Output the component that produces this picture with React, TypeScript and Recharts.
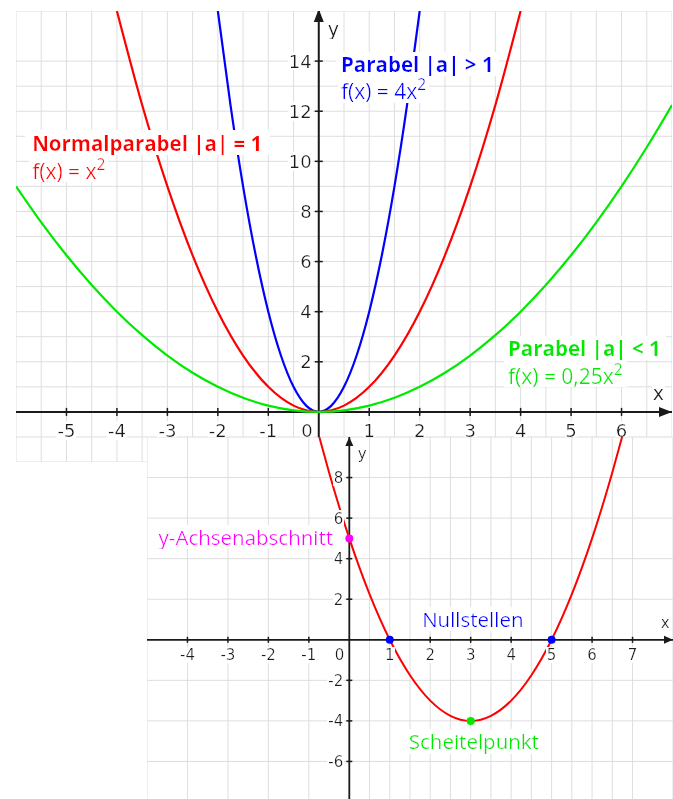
import React from "react";
import {
  ComposedChart,
  Line,
  Scatter,
  XAxis,
  YAxis,
  CartesianGrid,
  ReferenceLine,
  ReferenceDot,
} from "recharts";

// upper chart: f(x) = a * x^2 for three values of a
const normalX = [-4, -3.5, -3, -2.5, -2, -1.5, -1, -0.5, 0, 0.5, 1, 1.5, 2, 2.5, 3, 3.5, 4];
const normalY = [16, 12.25, 9, 6.25, 4, 2.25, 1, 0.25, 0, 0.25, 1, 2.25, 4, 6.25, 9, 12.25, 16];

const steepX = [-2, -1.75, -1.5, -1.25, -1, -0.75, -0.5, -0.25, 0, 0.25, 0.5, 0.75, 1, 1.25, 1.5, 1.75, 2];
const steepY = [16, 12.25, 9, 6.25, 4, 2.25, 1, 0.25, 0, 0.25, 1, 2.25, 4, 6.25, 9, 12.25, 16];

const flatX = [-6, -5.5, -5, -4.5, -4, -3.5, -3, -2.5, -2, -1.5, -1, -0.5, 0, 0.5, 1, 1.5, 2, 2.5, 3, 3.5, 4, 4.5, 5, 5.5, 6, 6.5, 7];
const flatY = [9, 7.5625, 6.25, 5.0625, 4, 3.0625, 2.25, 1.5625, 1, 0.5625, 0.25, 0.0625, 0, 0.0625, 0.25, 0.5625, 1, 1.5625, 2.25, 3.0625, 4, 5.0625, 6.25, 7.5625, 9, 10.5625, 12.25];

// lower chart: f(x) = x^2 - 6x + 5
const curveX = [-0.75, -0.5, -0.25, 0, 0.5, 1, 1.5, 2, 2.5, 3, 3.5, 4, 4.5, 5, 5.5, 6, 6.25, 6.5, 6.75];
const curveY = [10.0625, 8.25, 6.5625, 5, 2.25, 0, -1.75, -3, -3.75, -4, -3.75, -3, -1.75, 0, 2.25, 5, 6.5625, 8.25, 10.0625];

const interceptX = [0];
const interceptY = [5];
const rootsX = [1, 5];
const rootsY = [0, 0];
const vertexX = [3];
const vertexY = [-4];

// tick labels
const topXTicks = [-5, -4, -3, -2, -1, 1, 2, 3, 4, 5, 6];
const topYTicks = [2, 4, 6, 8, 10, 12, 14];
const botXTicks = [-4, -3, -2, -1, 1, 2, 3, 4, 5, 6, 7];
const botYTicks = [-6, -4, -2, 2, 4, 6, 8];

type Pt = { x: number; y: number };
const zip = (xs: number[], ys: number[]): Pt[] => xs.map((x, i) => ({ x, y: ys[i] }));

const range = (a: number, b: number, step: number) => {
  const out: number[] = [];
  for (let v = a; v <= b + 1e-9; v += step) out.push(Math.round(v * 100) / 100);
  return out;
};

const AXIS = "#1a1a1a";
const GRID = "#dedede";
const GREEN = "#00ea00";
const TICK_FONT = "'DejaVu Sans', sans-serif";
const LABEL_FONT = "'Open Sans', sans-serif";
const BG = "url(#textbg)";

const xTick = (label: string, size: number, len: number, dy: number) => (p: any) => (
  <g>
    <line x1={p.cx} x2={p.cx} y1={p.cy - len} y2={p.cy + len} stroke={AXIS} strokeWidth={1.5} />
    <text x={p.cx} y={p.cy + dy} textAnchor="middle" fontSize={size} fontFamily={TICK_FONT} fill={AXIS} filter={BG}>
      {label}
    </text>
  </g>
);

const yTick = (label: string, size: number, len: number, dx: number) => (p: any) => (
  <g>
    <line x1={p.cx - len} x2={p.cx + len} y1={p.cy} y2={p.cy} stroke={AXIS} strokeWidth={1.5} />
    <text x={p.cx - dx} y={p.cy + size * 0.36} textAnchor="end" fontSize={size} fontFamily={TICK_FONT} fill={AXIS} filter={BG}>
      {label}
    </text>
  </g>
);

const plainText = (label: string, size: number, dx: number, dy: number, anchor = "end") => (p: any) => (
  <text x={p.cx + dx} y={p.cy + dy} textAnchor={anchor} fontSize={size} fontFamily={TICK_FONT} fill={AXIS} filter={BG}>
    {label}
  </text>
);

const upArrow = (len: number, half: number) => (p: any) => (
  <path d={`M${p.cx},${p.cy - 2} L${p.cx - half},${p.cy - 2 + len} L${p.cx + half},${p.cy - 2 + len} Z`} fill={AXIS} />
);

const rightArrow = (len: number, half: number) => (p: any) => (
  <path d={`M${p.cx},${p.cy} L${p.cx - len},${p.cy - half} L${p.cx - len},${p.cy + half} Z`} fill={AXIS} />
);

// two-line label: bold heading, then the formula with a superscript 2
// formula first so the heading's white box sits on top of it
const heading = (title: string, formula: string, color: string, gap: number) => (p: any) => (
  <g fontFamily={LABEL_FONT} fill={color}>
    <text x={p.cx} y={p.cy + gap} fontSize={21} filter={BG}>
      {formula}
      <tspan dy={-9} fontSize={15.5}>
        2
      </tspan>
    </text>
    <text x={p.cx} y={p.cy} fontSize={20.5} fontWeight={700} filter={BG}>
      {title}
    </text>
  </g>
);

const note = (text: string, color: string, size: number, anchor = "start") => (p: any) => (
  <text x={p.cx} y={p.cy} textAnchor={anchor} fontSize={size} fontFamily={LABEL_FONT} fill={color} filter={BG}>
    {text}
  </text>
);

const dot = (color: string) => (p: any) => <circle cx={p.cx} cy={p.cy} r={4} fill={color} />;

function TopChart() {
  return (
    <ComposedChart width={656} height={451} margin={{ top: 0, right: 0, bottom: 0, left: 0 }}>
      <XAxis type="number" dataKey="x" domain={[-6, 7]} ticks={range(-6, 7, 0.5)} allowDataOverflow hide />
      <YAxis type="number" dataKey="y" domain={[-2, 16]} ticks={range(-2, 16, 1)} allowDataOverflow hide />
      <CartesianGrid stroke={GRID} strokeWidth={1} />
      <ReferenceLine x={0} stroke={AXIS} strokeWidth={2} />
      <ReferenceLine y={0} stroke={AXIS} strokeWidth={2} />
      {topXTicks.map((t) => (
        <ReferenceDot key={"tx" + t} x={t} y={0} ifOverflow="visible" shape={xTick(String(t), 18, 4, 25)} />
      ))}
      {topYTicks.map((t) => (
        <ReferenceDot key={"ty" + t} x={0} y={t} ifOverflow="visible" shape={yTick(String(t), 18, 4, 7)} />
      ))}
      <ReferenceDot x={0} y={0} ifOverflow="visible" shape={plainText("0", 18, -6, 25)} />
      <ReferenceDot x={0} y={16} ifOverflow="visible" shape={upArrow(13, 5)} />
      <ReferenceDot x={7} y={0} ifOverflow="visible" shape={rightArrow(13, 5)} />
      <ReferenceDot x={0.18} y={15.0} ifOverflow="visible" shape={plainText("y", 19, 0, 0, "start")} />
      <ReferenceDot x={6.62} y={0.47} ifOverflow="visible" shape={plainText("x", 19, 0, 0, "start")} />

      <Line data={zip(steepX, steepY)} dataKey="y" type="monotone" stroke="#0000ff" strokeWidth={2.2} dot={false} activeDot={false} isAnimationActive={false} />
      <Line data={zip(normalX, normalY)} dataKey="y" type="monotone" stroke="#ff0000" strokeWidth={2.2} dot={false} activeDot={false} isAnimationActive={false} />
      <Line data={zip(flatX, flatY)} dataKey="y" type="monotone" stroke={GREEN} strokeWidth={2.2} dot={false} activeDot={false} isAnimationActive={false} />

      <ReferenceDot x={-5.68} y={10.43} ifOverflow="visible" shape={heading("Normalparabel |a| = 1", "f(x) = x", "#ff0000", 28)} />
      <ReferenceDot x={0.44} y={13.57} ifOverflow="visible" shape={heading("Parabel |a| > 1", "f(x) = 4x", "#0000ff", 27)} />
      <ReferenceDot x={3.75} y={2.23} ifOverflow="visible" shape={heading("Parabel |a| < 1", "f(x) = 0,25x", GREEN, 27.5)} />
    </ComposedChart>
  );
}

function BottomChart() {
  return (
    <ComposedChart width={526} height={365} margin={{ top: 0, right: 0, bottom: 0, left: 0 }}>
      <XAxis type="number" dataKey="x" domain={[-5, 8]} ticks={range(-5, 8, 0.5)} allowDataOverflow hide />
      <YAxis type="number" dataKey="y" domain={[-8, 10]} ticks={range(-8, 10, 1)} allowDataOverflow hide />
      <CartesianGrid stroke={GRID} strokeWidth={1} />
      <ReferenceLine x={0} stroke={AXIS} strokeWidth={1.8} />
      <ReferenceLine y={0} stroke={AXIS} strokeWidth={1.8} />
      {botXTicks.map((t) => (
        <ReferenceDot key={"bx" + t} x={t} y={0} ifOverflow="visible" shape={xTick(String(t), 15, 3, 20)} />
      ))}
      {botYTicks.map((t) => (
        <ReferenceDot key={"by" + t} x={0} y={t} ifOverflow="visible" shape={yTick(String(t), 15, 3, 6)} />
      ))}
      <ReferenceDot x={0} y={0} ifOverflow="visible" shape={plainText("0", 15, -5, 20)} />
      <ReferenceDot x={0} y={9.9} ifOverflow="visible" shape={upArrow(9, 4)} />
      <ReferenceDot x={8} y={0} ifOverflow="visible" shape={rightArrow(9, 4)} />
      <ReferenceDot x={0.21} y={8.92} ifOverflow="visible" shape={plainText("y", 15, 0, 0, "start")} />
      <ReferenceDot x={7.7} y={0.58} ifOverflow="visible" shape={plainText("x", 15, 0, 0, "start")} />

      <Line data={zip(curveX, curveY)} dataKey="y" type="monotone" stroke="#ff0000" strokeWidth={2} dot={false} activeDot={false} isAnimationActive={false} />
      <Scatter data={zip(interceptX, interceptY)} dataKey="y" shape={dot("#ff00ff")} isAnimationActive={false} />
      <Scatter data={zip(rootsX, rootsY)} dataKey="y" shape={dot("#0000ff")} isAnimationActive={false} />
      <Scatter data={zip(vertexX, vertexY)} dataKey="y" shape={dot(GREEN)} isAnimationActive={false} />

      <ReferenceDot x={-0.4} y={4.68} ifOverflow="visible" shape={note("y-Achsenabschnitt", "#ff00ff", 20.5, "end")} />
      <ReferenceDot x={1.8} y={0.63} ifOverflow="visible" shape={note("Nullstellen", "#0000ff", 20.5)} />
      <ReferenceDot x={1.47} y={-5.4} ifOverflow="visible" shape={note("Scheitelpunkt", GREEN, 20.5)} />
    </ComposedChart>
  );
}

export default function App() {
  return (
    <div style={{ position: "absolute", left: 0, top: 0, width: 673, height: 799, overflow: "hidden", background: "#fff" }}>
      <svg width={0} height={0} style={{ position: "absolute" }}>
        <defs>
          <filter id="textbg" x="-0.03" y="0.08" width="1.06" height="0.84">
            <feFlood floodColor="#ffffff" />
            <feComposite in="SourceGraphic" operator="over" />
          </filter>
        </defs>
      </svg>
      <div style={{ position: "absolute", left: 16, top: 11 }}>
        <TopChart />
      </div>
      <div style={{ position: "absolute", left: 147, top: 437, background: "#fff" }}>
        <BottomChart />
      </div>
    </div>
  );
}
